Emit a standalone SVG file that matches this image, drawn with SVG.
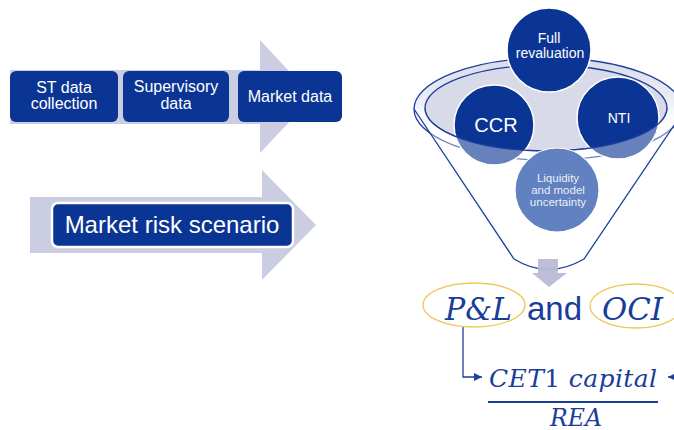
<svg xmlns="http://www.w3.org/2000/svg" width="674" height="430" viewBox="0 0 674 430">
<defs>
<style>
.box{fill:#0b3594;}
.bt{font-family:"Liberation Sans",Arial,sans-serif;font-size:16px;fill:#ffffff;text-anchor:middle;}
.ct{font-family:"Liberation Sans",Arial,sans-serif;fill:#ffffff;text-anchor:middle;}
.garrow{fill:#cbcde2;}
.circ{fill:#0b3594;stroke:#ffffff;stroke-width:1.5;}
.rim{stroke:#1d3f9c;stroke-width:1.3;}
.math{font-family:"DejaVu Serif","Liberation Serif",serif;font-style:italic;fill:#1a3d9a;}
.gold{fill:none;stroke:#f0c75a;stroke-width:1.3;}
.conn{fill:none;stroke:#1e3f9a;stroke-width:1.3;}
</style>
<linearGradient id="rimfill" x1="0" y1="0" x2="0" y2="1">
<stop offset="0" stop-color="#d9dbe8"/>
<stop offset="0.45" stop-color="#eef0f6"/>
<stop offset="0.7" stop-color="#ffffff"/>
</linearGradient>
<marker id="ah" markerUnits="userSpaceOnUse" markerWidth="8" markerHeight="8" refX="8" refY="4" orient="auto">
<path d="M0,0 L8,4 L0,8 Z" fill="#1e3f9a"/>
</marker>
</defs>
<rect width="674" height="430" fill="#ffffff"/>

<g id="data-arrow">
<polygon class="garrow" points="10,70 260,70 260,40 313,97 260,153 260,124 10,124"/>
</g>
<g id="node-st-data">
<rect class="box" x="10" y="71" width="108" height="51" rx="6"/>
<text class="bt" x="64" y="93">ST data</text>
<text class="bt" x="64" y="109">collection</text>
</g>
<g id="node-supervisory">
<rect class="box" x="123" y="71" width="106" height="51" rx="6"/>
<text class="bt" x="176" y="92">Supervisory</text>
<text class="bt" x="176" y="109">data</text>
</g>
<g id="node-market-data">
<rect class="box" x="238" y="71" width="104" height="51" rx="6"/>
<text class="bt" x="290" y="102">Market data</text>
</g>

<g id="scenario-arrow">
<polygon class="garrow" points="30,197 262,197 262,170 316,225 262,280 262,253 30,253"/>
</g>
<g id="node-scenario">
<rect class="box" x="52" y="203" width="241" height="44" rx="6" stroke="#ffffff" stroke-width="2.5"/>
<text class="ct" x="172" y="233" font-size="24">Market risk scenario</text>
</g>

<g id="funnel">
<ellipse class="rim" cx="548" cy="109" rx="134" ry="51" fill="url(#rimfill)"/>
<ellipse class="rim" cx="546" cy="108" rx="121" ry="43" fill="#d8dae8"/>
</g>
<g id="node-ccr">
<circle class="circ" cx="494" cy="125" r="40"/>
<text class="ct" x="496" y="132" font-size="20">CCR</text>
</g>
<g id="node-nti">
<circle class="circ" cx="618" cy="118" r="41"/>
<text class="ct" x="619" y="123" font-size="14">NTI</text>
</g>
<g id="funnel-front">
<path d="M414,109 L514,259 Q548,280 584,259 L685,109 L667,108 A121,43 0 0 1 425,108 Z" fill="#ffffff" fill-opacity="0.38"/>
<path class="rim" fill="none" d="M414,109 L514,259 Q548,280 584,259 L685,109"/>
<path class="rim" fill="none" d="M667,108 A121,43 0 0 1 425,108"/>
</g>
<g id="node-liquidity">
<circle cx="557" cy="190" r="42" fill="#6281c0" stroke="#ffffff" stroke-width="1.2"/>
<text class="ct" x="558" y="182" font-size="11.5" fill-opacity="0.9">Liquidity</text>
<text class="ct" x="558" y="194" font-size="11.5" fill-opacity="0.9">and model</text>
<text class="ct" x="558" y="206" font-size="11.5" fill-opacity="0.9">uncertainty</text>
</g>
<g id="node-full-revaluation">
<circle class="circ" cx="549" cy="50" r="42"/>
<text class="ct" x="549" y="43" font-size="14">Full</text>
<text class="ct" x="550" y="58" font-size="14">revaluation</text>
</g>

<g id="connectors">
<polygon points="538,259 558,259 558,273 567,273 549,287 532,273 538,273" fill="#b9bcd6" fill-opacity="0.95"/>
<path class="conn" d="M463,327 V377 H482" marker-end="url(#ah)"/>
<path class="conn" d="M690,330 V377 H668" marker-end="url(#ah)"/>
</g>

<g id="node-pl">
<ellipse class="gold" cx="474" cy="305" rx="51" ry="22"/>
<text class="math" x="445" y="320" font-size="31" textLength="67" lengthAdjust="spacingAndGlyphs">P&amp;L</text>
</g>
<g id="node-and">
<text x="527" y="320" font-family="'Liberation Sans',Arial,sans-serif" font-size="33" fill="#1a3d9a">and</text>
</g>
<g id="node-oci">
<ellipse class="gold" cx="636" cy="306" rx="46" ry="22"/>
<text class="math" x="602" y="320" font-size="31" textLength="61" lengthAdjust="spacingAndGlyphs">OCI</text>
</g>
<g id="node-ratio">
<text class="math" x="489" y="387" font-size="25" textLength="168" lengthAdjust="spacing">CET<tspan font-style="normal">1</tspan> capital</text>
<line x1="488" y1="402" x2="658" y2="402" stroke="#1a3d9a" stroke-width="2"/>
<text class="math" x="550" y="426" font-size="24" textLength="52" lengthAdjust="spacingAndGlyphs">REA</text>
</g>
</svg>
